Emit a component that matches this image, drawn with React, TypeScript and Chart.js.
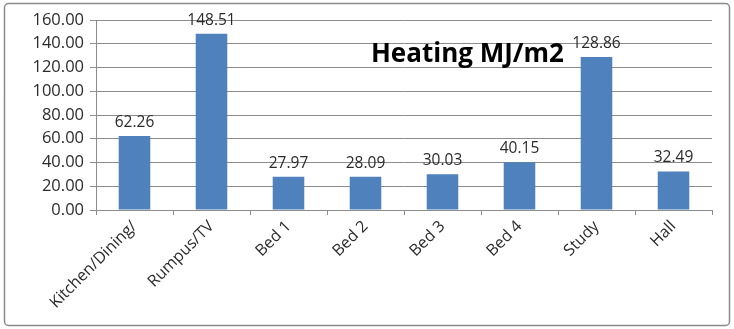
import React, { useEffect, useRef } from "react";
import { Chart, registerables } from "chart.js";

Chart.register(...registerables);

const rooms = ["Kitchen/Dining/", "Rumpus/TV", "Bed 1", "Bed 2", "Bed 3", "Bed 4", "Study", "Hall"];
const heating = [62.26, 148.51, 27.97, 28.09, 30.03, 40.15, 128.86, 32.49];
const chartTitle = "Heating MJ/m2";

const FONT = "'Open Sans', sans-serif";
const GRID = "#8c8c8c";
const TEXT = "#2b2b2b";

// Rounded frame around the whole chart
const framePlugin = {
  id: "frame",
  beforeDraw(chart: any) {
    const { ctx } = chart;
    ctx.save();
    ctx.fillStyle = "#ffffff";
    ctx.fillRect(0, 0, chart.width, chart.height);
    ctx.strokeStyle = "#8a8a8a";
    ctx.lineWidth = 1.5;
    ctx.beginPath();
    (ctx as any).roundRect(4.5, 3.5, chart.width - 9, chart.height - 7, 4);
    ctx.stroke();
    ctx.restore();
  },
};

// Value labels above each bar
const valueLabels = {
  id: "valueLabels",
  afterDatasetsDraw(chart: any) {
    const { ctx } = chart;
    const meta = chart.getDatasetMeta(0);
    ctx.save();
    ctx.fillStyle = TEXT;
    ctx.font = `15.5px ${FONT}`;
    ctx.textAlign = "center";
    ctx.textBaseline = "alphabetic";
    meta.data.forEach((bar: any, i: number) => {
      ctx.fillText(heating[i].toFixed(2), bar.x, bar.y - 9);
    });
    ctx.restore();
  },
};

// Title drawn inside the plot area
const innerTitle = {
  id: "innerTitle",
  afterDatasetsDraw(chart: any) {
    const { ctx, chartArea } = chart;
    const x = chartArea.left + (chartArea.right - chartArea.left) * 0.603;
    const y = chartArea.top + (chartArea.bottom - chartArea.top) * 0.222;
    ctx.save();
    ctx.fillStyle = "#000000";
    ctx.font = `bold 26px ${FONT}`;
    ctx.textAlign = "center";
    ctx.textBaseline = "alphabetic";
    ctx.fillText(chartTitle, x, y);
    ctx.restore();
  },
};

export default function App() {
  const ref = useRef<HTMLCanvasElement | null>(null);

  useEffect(() => {
    document.body.style.margin = "0";
    const chart = new Chart(ref.current as HTMLCanvasElement, {
      type: "bar",
      data: {
        labels: rooms,
        datasets: [
          {
            data: heating,
            backgroundColor: "#4f81bd",
            borderWidth: 0,
            barPercentage: 0.82,
            categoryPercentage: 0.5,
          },
        ],
      },
      options: {
        animation: false,
        responsive: false,
        layout: { padding: { top: 20, right: 22, left: 0, bottom: 0 } },
        plugins: { legend: { display: false }, tooltip: { enabled: false } },
        scales: {
          x: {
            grid: {
              display: true,
              drawOnChartArea: false,
              drawTicks: true,
              tickLength: 5,
              color: GRID,
              offset: true,
            },
            border: { color: GRID, width: 1 },
            ticks: {
              color: TEXT,
              font: { family: FONT, size: 16 },
              maxRotation: 45,
              minRotation: 45,
              autoSkip: false,
              padding: 2,
            },
            afterFit(scale: any) {
              scale.height = 119;
            },
          },
          y: {
            min: 0,
            max: 160,
            grid: { color: GRID, tickLength: 6, lineWidth: 1 },
            border: { color: GRID, width: 1 },
            ticks: {
              stepSize: 20,
              color: TEXT,
              font: { family: FONT, size: 16.5 },
              padding: 6,
              callback: (v: any) => Number(v).toFixed(2),
            },
            afterFit(scale: any) {
              scale.width = 96;
            },
          },
        },
      },
      plugins: [framePlugin, valueLabels, innerTitle],
    });
    return () => chart.destroy();
  }, []);

  return (
    <div style={{ position: "absolute", left: 0, top: 0, width: 734, height: 329 }}>
      <canvas ref={ref} width={734} height={329} style={{ display: "block" }} />
    </div>
  );
}
